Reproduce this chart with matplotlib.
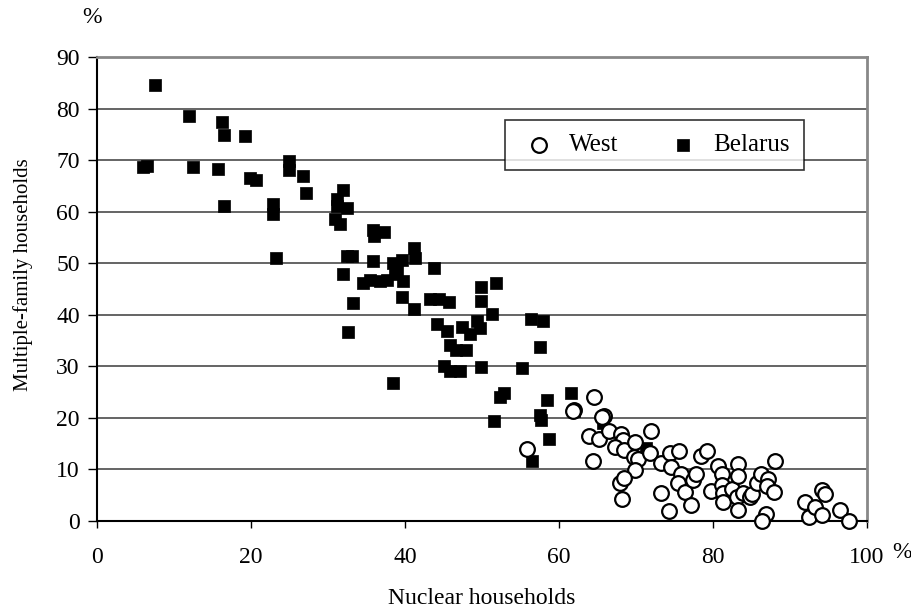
import matplotlib
matplotlib.use("Agg")
import matplotlib.pyplot as plt
import numpy as np

plt.rcParams['font.family'] = ['Liberation Serif', 'DejaVu Serif']

# Belarus households (% nuclear, % multiple-family)
belarus_x = [7.5, 12.0, 16.2, 16.5, 19.2, 6.0, 6.5, 12.4, 15.7, 19.9, 20.6, 24.9, 24.9,
             26.7, 27.1, 16.5, 22.9, 22.9, 23.2, 32.0, 31.1, 32.4, 31.1, 30.9, 31.5,
             35.9, 37.3, 36.0, 41.1, 41.3, 32.4, 33.1, 35.9, 38.5, 39.6, 43.7, 31.9,
             38.7, 38.9, 34.6, 35.5, 36.8, 37.6, 39.8, 49.9, 51.8, 39.6, 33.2, 43.2,
             44.4, 45.7, 49.9, 41.1, 51.3, 32.6, 44.1, 45.4, 47.4, 49.3, 49.7, 48.4,
             56.4, 57.9, 45.8, 46.6, 47.9, 57.5, 45.0, 45.8, 47.1, 49.9, 55.2, 38.4,
             52.8, 52.3, 61.5, 58.4, 51.5, 57.5, 57.7, 58.7, 56.5, 61.9, 65.7, 71.3]
belarus_y = [84.6, 78.6, 77.3, 74.9, 74.7, 68.7, 68.8, 68.7, 68.3, 66.6, 66.1, 69.8, 68.1,
             67.0, 63.6, 61.0, 61.4, 59.5, 51.1, 64.2, 62.4, 60.8, 61.0, 58.5, 57.7,
             56.4, 56.1, 55.3, 53.0, 51.1, 51.4, 51.4, 50.5, 50.0, 50.6, 49.0, 48.0,
             48.0, 48.7, 46.2, 46.7, 46.6, 46.7, 46.5, 45.3, 46.1, 43.5, 42.3, 43.1,
             43.1, 42.5, 42.7, 41.1, 40.1, 36.6, 38.3, 36.8, 37.7, 38.7, 37.4, 36.2,
             39.1, 38.7, 34.1, 33.2, 33.2, 33.7, 30.1, 29.0, 29.0, 29.9, 29.7, 26.8,
             24.9, 24.1, 24.9, 23.4, 19.4, 20.6, 19.5, 16.0, 11.6, 21.4, 19.1, 14.1]

# West households
west_x = [55.9, 62.0, 61.8, 64.6, 65.8, 65.6, 63.9, 65.2, 66.5, 64.4, 68.0, 68.3, 67.3,
          68.4, 69.9, 69.8, 70.3, 71.9, 71.8, 69.9, 67.9, 68.4, 68.2, 73.3, 74.4, 75.6,
          74.6, 75.8, 75.5, 76.4, 73.2, 74.3, 77.1, 77.4, 77.8, 78.4, 79.2, 80.7, 79.8,
          81.1, 81.2, 81.3, 81.3, 82.4, 83.2, 83.3, 83.1, 83.2, 83.9, 84.8, 85.0, 85.7,
          86.2, 87.2, 86.9, 86.3, 87.0, 87.9, 88.1, 92.0, 92.5, 93.2, 94.1, 94.5, 94.2,
          96.5, 97.6]
west_y = [13.9, 21.5, 21.3, 24.0, 20.4, 20.1, 16.4, 16.0, 17.5, 11.7, 16.9, 15.7, 14.3,
          13.8, 15.3, 12.4, 12.0, 17.5, 13.1, 9.9, 7.3, 8.3, 4.2, 11.3, 13.2, 13.6,
          10.5, 9.2, 7.3, 5.7, 5.4, 2.0, 3.2, 8.0, 9.2, 12.6, 13.6, 10.7, 5.9,
          9.2, 7.0, 5.4, 3.6, 6.3, 11.0, 8.7, 4.7, 2.1, 5.4, 4.7, 5.2, 7.3,
          9.2, 8.1, 1.4, 0.0, 6.7, 5.7, 11.7, 3.7, 0.8, 2.8, 6.0, 5.2, 1.2,
          2.1, 0.0]

x_ticks = [0, 20, 40, 60, 80, 100]
y_ticks = [0, 10, 20, 30, 40, 50, 60, 70, 80, 90]

fig = plt.figure(figsize=(9.12, 6.10), dpi=100)
ax = fig.add_axes([0.1064, 0.1459, 0.8443, 0.7607])

for y in y_ticks[1:-1]:
    ax.axhline(y, color='#3a3a3a', lw=1.1, zorder=1)

ax.scatter(belarus_x, belarus_y, marker='s', s=80, c='black', edgecolors='black',
           linewidths=0.5, zorder=3, label='Belarus', clip_on=False)
ax.scatter(west_x, west_y, marker='o', s=112, facecolors='white', edgecolors='black',
           linewidths=1.6, zorder=4, label='West', clip_on=False)

ax.set_xlim(0, 100)
ax.set_ylim(0, 90)
ax.set_xticks(x_ticks)
ax.set_yticks(y_ticks)
ax.tick_params(axis='x', direction='out', length=5, width=1, pad=14, labelsize=17)
ax.tick_params(axis='y', direction='out', length=6.5, width=1, pad=6, labelsize=17)

for side in ['top', 'right']:
    ax.spines[side].set_color('#888888')
    ax.spines[side].set_linewidth(2.0)
for side in ['left', 'bottom']:
    ax.spines[side].set_color('black')
    ax.spines[side].set_linewidth(1.5)

ax.set_xlabel('Nuclear households', fontsize=17)
ax.xaxis.set_label_coords(0.5, -0.168)
ax.xaxis.label.set_verticalalignment('center')
ax.set_ylabel('Multiple-family households', fontsize=15)
ax.yaxis.set_label_coords(-0.096, 0.532)
ax.yaxis.label.set_verticalalignment('center')

fig.text(0.101, 0.972, '%', fontsize=17, ha='center', va='center')
fig.text(0.989, 0.095, '%', fontsize=17, ha='center', va='center')

handles, labels = ax.get_legend_handles_labels()
leg = ax.legend(handles[::-1], labels[::-1], ncol=2, loc='upper left',
                bbox_to_anchor=(0.530, 0.864), fontsize=18, frameon=True,
                fancybox=False, edgecolor='black', borderpad=0.55,
                handlelength=1.6, columnspacing=1.8, handletextpad=0.4,
                markerscale=1.0, borderaxespad=0)
leg.get_frame().set_linewidth(1.2)

fig.savefig('out.png', dpi=100)
